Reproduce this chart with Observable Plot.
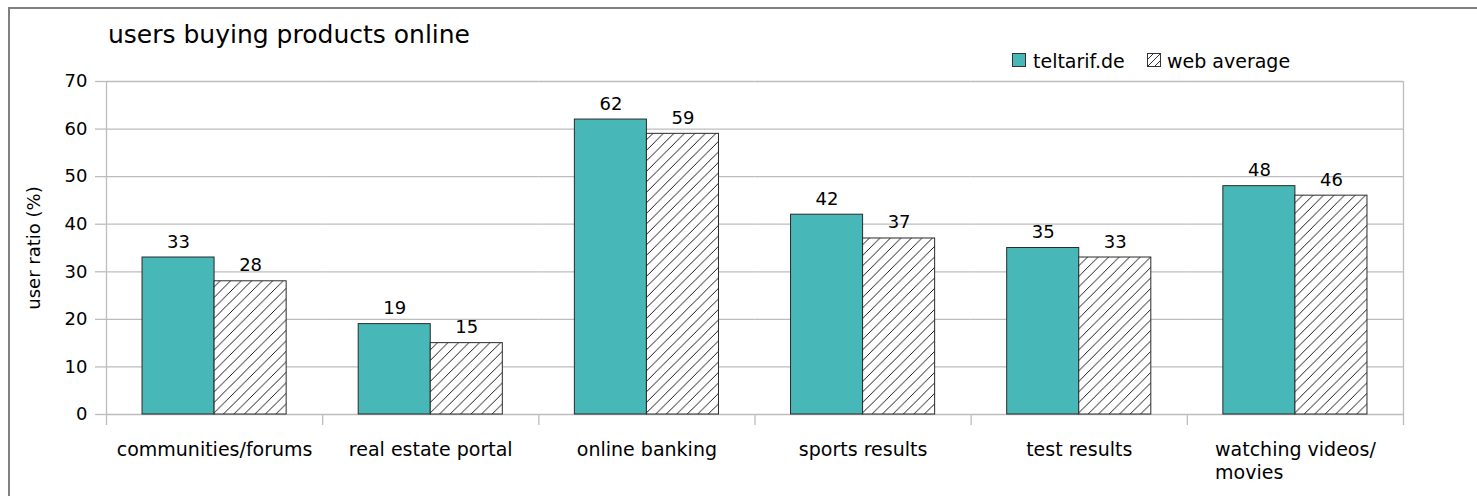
<!DOCTYPE html>
<html>
<head>
<meta charset="utf-8">
<script src="https://cdn.jsdelivr.net/npm/d3@7"></script>
<script src="https://cdn.jsdelivr.net/npm/@observablehq/plot@0.6"></script>
<style>
  html, body { margin: 0; padding: 0; background: #fff; }
  body { font-family: "DejaVu Sans", sans-serif; color: #000; }
  #wrap { position: relative; width: 1477px; height: 496px; overflow: hidden; }
  #frame { position: absolute; left: 8px; top: 7px; width: 1469px; height: 489px;
           border-left: 2px solid #808080; border-top: 2px solid #808080; box-sizing: border-box; }
  #header { position: absolute; left: 0; top: 0; width: 1477px; height: 60px; }
  #title { position: absolute; left: 108px; top: 22px; font-size: 25px; line-height: 25px; white-space: nowrap; }
  .lg-sw { position: absolute; top: 53px; width: 14px; height: 14px; box-sizing: border-box; }
  .lg-tx { position: absolute; top: 52px; font-size: 19px; line-height: 19px; white-space: nowrap; }
  #chart { position: absolute; left: 0; top: 60px; }
</style>
</head>
<body>
<div id="wrap">
  <div id="frame"></div>
  <div id="header">
    <div id="title"></div>
    <div id="legend"></div>
  </div>
  <div id="chart"></div>
</div>
<script>
// ---- data ----
const title = "users buying products online";
const yLabel = "user ratio (%)";
const categories = ["communities/forums", "real estate portal", "online banking", "sports results", "test results", "watching videos/\nmovies"];
const series = ["teltarif.de", "web average"];
const teltarif = [33, 19, 62, 42, 35, 48];
const webAverage = [28, 15, 59, 37, 33, 46];
const yTicks = [0, 10, 20, 30, 40, 50, 60, 70];

// ---- style ----
const teal = "#47b8b7";
const gridColor = "#bdbdbd";
const W = 1477, H = 436;
const mL = 106, mR = 74, mT = 21, mB = 82;
const half = (W - mL - mR) / categories.length / 2;

const rows = categories.flatMap((c, i) => [
  {category: c, series: series[0], value: teltarif[i]},
  {category: c, series: series[1], value: webAverage[i]}
]);

document.getElementById("title").textContent = title;

// legend
const legend = document.getElementById("legend");
const legendPos = [{sw: 1012, tx: 1033}, {sw: 1147, tx: 1167}];
series.forEach((s, i) => {
  const sw = document.createElement("div");
  sw.className = "lg-sw";
  sw.style.left = legendPos[i].sw + "px";
  if (i === 0) {
    sw.style.background = teal;
    sw.style.border = "1px solid #333";
  } else {
    sw.innerHTML = '<svg width="14" height="14" style="display:block"><defs><pattern id="hatchLg" patternUnits="userSpaceOnUse" width="7" height="7"><rect width="7" height="7" fill="#fff"/><path d="M0,7L7,0M-1,1L1,-1M6,8L8,6" stroke="#000" stroke-width="0.8"/></pattern></defs><rect x="0.5" y="0.5" width="13" height="13" fill="url(#hatchLg)" stroke="#333" stroke-width="1"/></svg>';
  }
  legend.appendChild(sw);
  const tx = document.createElement("div");
  tx.className = "lg-tx";
  tx.style.left = legendPos[i].tx + "px";
  tx.textContent = s;
  legend.appendChild(tx);
});

const plot = Plot.plot({
  width: W,
  height: H,
  marginTop: mT,
  marginBottom: mB,
  marginLeft: mL,
  marginRight: mR,
  style: {fontFamily: "DejaVu Sans", fontSize: "18px", color: "#000", background: "transparent", overflow: "visible"},
  fx: {domain: categories, padding: 0, round: false, label: null, axis: null},
  x: {domain: series, paddingInner: 0, paddingOuter: 0.5, round: false, axis: null},
  y: {domain: [0, 70], label: null},
  color: {domain: series, range: [teal, "url(#hatch)"]},
  marks: [
    Plot.gridY(yTicks, {stroke: gridColor, strokeOpacity: 1, strokeWidth: 1.3}),
    // plot-area side lines and category separators
    Plot.ruleX([categories[0]], {fx: d => d, x: null, insetBottom: -11, dx: -half, stroke: gridColor, strokeWidth: 1.3}),
    Plot.ruleX([categories[categories.length - 1]], {fx: d => d, x: null, insetBottom: -11, dx: half, stroke: gridColor, strokeWidth: 1.3}),
    Plot.ruleX(categories.slice(1), {fx: d => d, x: null, y1: 0, y2: 0, insetBottom: -11, dx: -half, stroke: gridColor, strokeWidth: 1.3}),
    Plot.axisY(yTicks, {
      tickSize: 11, tickPadding: 8, stroke: gridColor, strokeWidth: 1.3, fill: "#000", fontSize: 18,
      label: yLabel, labelAnchor: "center", labelArrow: "none", labelOffset: 79
    }),
    Plot.axisFx({anchor: "bottom", label: null, tickSize: 0, tickPadding: 25, fontSize: 19, lineHeight: 1.22, fill: "#000"}),
    Plot.barY(rows, {fx: "category", x: "series", y: "value", fill: "series", stroke: "#2a2a2a", strokeWidth: 1}),
    Plot.text(rows, {fx: "category", x: "series", y: "value", text: d => String(d.value), lineAnchor: "bottom", dy: -10, fontSize: 18, fill: "#000"})
  ]
});

// hatch pattern definition
const defs = d3.select(plot).insert("defs", ":first-child");
const pat = defs.append("pattern").attr("id", "hatch").attr("patternUnits", "userSpaceOnUse")
  .attr("width", 10.5).attr("height", 10.5);
pat.append("rect").attr("width", 10.5).attr("height", 10.5).attr("fill", "#fff");
pat.append("path").attr("d", "M0,10.5L10.5,0M-1,1L1,-1M9.5,11.5L11.5,9.5").attr("stroke", "#000").attr("stroke-width", 0.9);

document.getElementById("chart").appendChild(plot);

// left-align multi-line category labels as a centred block
d3.select(plot).selectAll('g[aria-label="fx-axis tick label"] text').each(function() {
  const tspans = this.querySelectorAll("tspan");
  if (tspans.length > 1) {
    let w = 0;
    tspans.forEach(t => { w = Math.max(w, t.getComputedTextLength()); });
    this.setAttribute("text-anchor", "start");
    tspans.forEach(t => t.setAttribute("x", -w / 2));
  }
});
</script>
</body>
</html>
